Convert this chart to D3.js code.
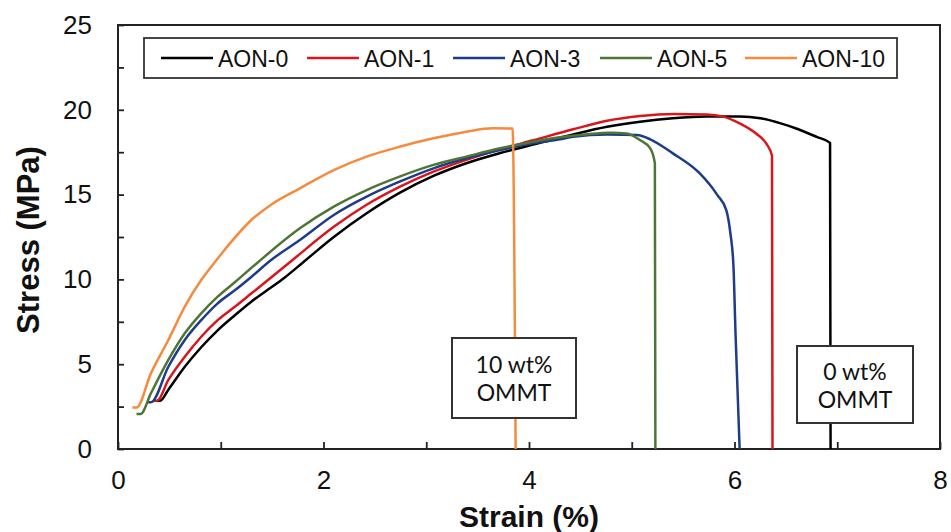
<!DOCTYPE html>
<html>
<head>
<meta charset="utf-8">
<script src="https://cdn.jsdelivr.net/npm/d3@7"></script>
<style>
  body { margin: 0; background: #fff; }
  text { font-family: "Liberation Sans", Arial, sans-serif; fill: #111; }
</style>
</head>
<body>
<div id="chart"></div>
<script>
// tensile curves, [strain %, stress MPa]
const aon0 = [[0.38,2.85],[0.41,2.85],[0.49,3.5],[0.65,4.85],[0.81,6.0],[0.97,7.0],[1.14,7.9],[1.30,8.7],[1.46,9.4],[1.62,10.1],[1.8,11.0],[2.1,12.5],[2.42,13.9],[2.74,15.1],[3.07,16.1],[3.39,16.85],[3.72,17.45],[4.04,17.95],[4.4,18.5],[4.76,19.0],[5.08,19.3],[5.4,19.5],[5.73,19.6],[6.05,19.6],[6.25,19.5],[6.45,19.2],[6.6,18.9],[6.8,18.4],[6.93,18.05],[6.935,0]];
const aon1 = [[0.34,2.85],[0.38,2.85],[0.49,4.07],[0.65,5.44],[0.81,6.62],[0.97,7.6],[1.14,8.4],[1.30,9.18],[1.46,9.96],[1.69,11.1],[2.1,13.1],[2.42,14.4],[2.74,15.45],[3.07,16.35],[3.39,17.05],[3.72,17.67],[4.04,18.2],[4.43,18.85],[4.76,19.35],[5.08,19.63],[5.4,19.75],[5.73,19.73],[5.89,19.6],[6.05,19.2],[6.21,18.6],[6.31,18.0],[6.365,17.3],[6.37,0]];
const aon3 = [[0.29,2.75],[0.32,2.75],[0.49,4.85],[0.65,6.43],[0.81,7.6],[0.97,8.59],[1.14,9.37],[1.30,10.16],[1.49,11.14],[1.77,12.32],[2.1,13.8],[2.42,14.88],[2.74,15.76],[3.07,16.55],[3.39,17.14],[3.72,17.63],[4.04,18.02],[4.3,18.26],[4.43,18.41],[4.76,18.55],[5.05,18.51],[5.18,18.26],[5.4,17.43],[5.66,16.26],[5.83,15.0],[5.92,14.09],[5.96,12.72],[5.99,10.75],[6.01,6.8],[6.05,0]];
const aon5 = [[0.18,2.06],[0.22,2.06],[0.32,3.28],[0.49,5.25],[0.65,6.82],[0.81,8.0],[0.97,8.98],[1.14,9.85],[1.36,11.0],[1.77,13.01],[2.1,14.29],[2.42,15.27],[2.74,16.06],[3.07,16.75],[3.39,17.24],[3.72,17.73],[4.04,18.12],[4.3,18.38],[4.55,18.55],[4.8,18.65],[4.95,18.6],[5.08,18.22],[5.18,17.73],[5.225,16.85],[5.23,0]];
const aon10 = [[0.14,2.44],[0.18,2.44],[0.32,4.46],[0.49,6.43],[0.65,8.39],[0.81,9.96],[0.94,11.0],[1.1,12.2],[1.28,13.4],[1.5,14.45],[1.77,15.37],[2.1,16.45],[2.42,17.24],[2.74,17.82],[3.07,18.32],[3.39,18.71],[3.65,18.91],[3.84,18.9],[3.87,0]];

const seriesNames = ["AON-0", "AON-1", "AON-3", "AON-5", "AON-10"];
const seriesData = [aon0, aon1, aon3, aon5, aon10];
const seriesColors = ["#000000", "#d8161c", "#1f3c88", "#4f7536", "#f58b3c"];

const xTicks = [0, 1, 2, 3, 4, 5, 6, 7, 8];
const yTicks = [0, 2.5, 5, 7.5, 10, 12.5, 15, 17.5, 20, 22.5, 25];

const notes = [
  { lines: ["10 wt%", "OMMT"], box: [452, 338, 124, 80] },
  { lines: ["0 wt%", "OMMT"], box: [797, 346, 116, 77] }
];

const width = 951, height = 532;
const margin = { top: 25, right: 11, bottom: 83, left: 118 };
const w = width - margin.left - margin.right;
const h = height - margin.top - margin.bottom;

const svg = d3.select("#chart")
  .append("svg")
  .attr("width", width)
  .attr("height", height);

const g = svg.append("g")
  .attr("transform", `translate(${margin.left},${margin.top})`);

const x = d3.scaleLinear().domain([0, 8]).range([0, w]);
const y = d3.scaleLinear().domain([0, 25]).range([h, 0]);

// axes, ticks pointing inward
g.append("g")
  .attr("transform", `translate(0,${h})`)
  .call(d3.axisBottom(x).tickValues(xTicks).tickSizeInner(-7).tickSizeOuter(0).tickPadding(22)
    .tickFormat(d => d % 2 === 0 ? d : ""))
  .call(a => a.select(".domain").remove())
  .call(a => a.selectAll("line").attr("stroke", "#222").attr("stroke-width", 1.8))
  .call(a => a.selectAll("text").style("font-size", "26px").attr("fill", "#111"));

g.append("g")
  .call(d3.axisLeft(y).tickValues(yTicks).tickSizeInner(-6).tickSizeOuter(0).tickPadding(26)
    .tickFormat(d => d % 5 === 0 ? d : ""))
  .call(a => a.select(".domain").remove())
  .call(a => a.selectAll("line").attr("stroke", "#222").attr("stroke-width", 1.8))
  .call(a => a.selectAll("text").style("font-size", "26px").attr("fill", "#111"));

g.append("rect")
  .attr("width", w)
  .attr("height", h)
  .attr("fill", "none")
  .attr("stroke", "#222")
  .attr("stroke-width", 2);

// curves
const line = d3.line()
  .x(d => x(d[0]))
  .y(d => y(d[1]))
  .curve(d3.curveMonotoneX);

g.selectAll(".curve")
  .data(seriesData)
  .join("path")
  .attr("class", "curve")
  .attr("d", line)
  .attr("fill", "none")
  .attr("stroke", (d, i) => seriesColors[i])
  .attr("stroke-width", 2.5)
  .attr("stroke-linejoin", "round");

// annotation boxes
notes.forEach(n => {
  const [bx, by, bw, bh] = n.box;
  svg.append("rect")
    .attr("x", bx).attr("y", by)
    .attr("width", bw).attr("height", bh)
    .attr("fill", "#fff")
    .attr("stroke", "#333")
    .attr("stroke-width", 2);
  n.lines.forEach((t, k) => {
    svg.append("text")
      .attr("x", bx + bw / 2)
      .attr("y", by + bh / 2 - 5 + k * 28)
      .attr("text-anchor", "middle")
      .style("font-family", "Lato, sans-serif")
      .style("font-size", "23px")
      .text(t);
  });
});

// legend
const legend = svg.append("g");
legend.append("rect")
  .attr("x", 144).attr("y", 38)
  .attr("width", 753).attr("height", 40)
  .attr("fill", "#fff")
  .attr("stroke", "#333")
  .attr("stroke-width", 1.8);

const legendX = [161, 307, 453, 600, 745];
const items = legend.selectAll(".item")
  .data(seriesNames)
  .join("g")
  .attr("class", "item")
  .attr("transform", (d, i) => `translate(${legendX[i]},58)`);

items.append("line")
  .attr("x1", 0).attr("x2", 52)
  .attr("stroke", (d, i) => seriesColors[i])
  .attr("stroke-width", 2.5);

items.append("text")
  .attr("x", 57)
  .attr("y", 8.5)
  .style("font-size", "23px")
  .text(d => d);

// axis titles
svg.append("text")
  .attr("x", margin.left + w / 2)
  .attr("y", 527)
  .attr("text-anchor", "middle")
  .style("font-size", "30px")
  .style("font-weight", "bold")
  .text("Strain (%)");

svg.append("text")
  .attr("transform", "translate(39,240) rotate(-90)")
  .attr("text-anchor", "middle")
  .style("font-size", "31px")
  .style("font-weight", "bold")
  .text("Stress (MPa)");
</script>
</body>
</html>
